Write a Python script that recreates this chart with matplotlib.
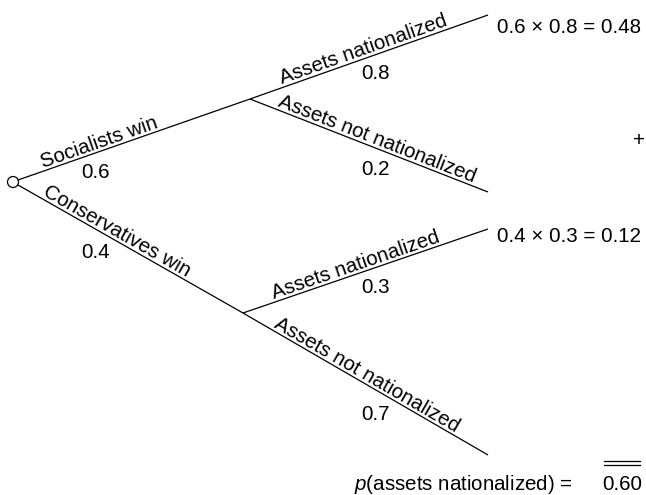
import math
import matplotlib
matplotlib.use("Agg")
import matplotlib.pyplot as plt
from matplotlib.patches import Circle

plt.rcParams["font.family"] = ["Liberation Sans", "DejaVu Sans"]
plt.rcParams["mathtext.fontset"] = "custom"
plt.rcParams["mathtext.rm"] = "Liberation Sans"
plt.rcParams["mathtext.it"] = "Liberation Sans:italic"

# ===== data =====
first_labels = ["Socialists win", "Conservatives win"]
first_probs = [0.6, 0.4]
second_labels = ["Assets nationalized", "Assets not nationalized"]
second_probs = [[0.8, 0.2], [0.3, 0.7]]
total_label = "$p$(assets nationalized) ="

# ===== layout (pixel coords, y down) =====
root = (13, 182)
first_starts = [(18, 180), (18, 185)]
first_ends = [(250, 99), (243, 313)]
second_ends = [[(488, 15), (488, 192)], [(488, 229), (488, 455)]]
first_label_t = [0.36, 0.42]
first_prob_xy = [(96, 178), (96, 258)]          # baseline positions
second_label_t = [[0.49, 0.52], [0.47, 0.49]]
second_prob_xy = [[(375, 79), (375, 175)], [(376, 293), (375, 420)]]
result_base = [33, 242]
LABEL_OFF = 3
FS = 14.8
LW = 0.9

fig = plt.figure(figsize=(6.46, 4.95), dpi=100)
ax = fig.add_axes([0, 0, 1, 1])
ax.set_xlim(0, 646)
ax.set_ylim(495, 0)
ax.axis("off")


def branch(p0, p1, label, t):
    ax.plot([p0[0], p1[0]], [p0[1], p1[1]], color="black", lw=LW,
            solid_capstyle="butt")
    dx, dy = p1[0] - p0[0], p1[1] - p0[1]
    length = math.hypot(dx, dy)
    # normal pointing "up" on screen
    nx, ny = dy / length, -dx / length
    if ny > 0:
        nx, ny = -nx, -ny
    cx = p0[0] + t * dx + nx * LABEL_OFF
    cy = p0[1] + t * dy + ny * LABEL_OFF
    ang = math.degrees(math.atan2(-dy, dx))
    ax.text(cx, cy, label, fontsize=FS, rotation=ang, rotation_mode="anchor",
            ha="center", va="baseline")


ax.add_patch(Circle(root, 5.5, facecolor="white", edgecolor="black", lw=LW,
                    zorder=3))

for i in range(2):
    branch(first_starts[i], first_ends[i], first_labels[i], first_label_t[i])
    ax.text(*first_prob_xy[i], f"{first_probs[i]}", fontsize=FS,
            ha="center", va="baseline")
    for j in range(2):
        branch(first_ends[i], second_ends[i][j], second_labels[j],
               second_label_t[i][j])
        ax.text(*second_prob_xy[i][j], f"{second_probs[i][j]}", fontsize=FS,
                ha="center", va="baseline")
    joint = first_probs[i] * second_probs[i][0]
    ax.text(497, result_base[i],
            f"{first_probs[i]} \u00d7 {second_probs[i][0]} = {joint:.2f}",
            fontsize=FS, ha="left", va="baseline")

total = sum(first_probs[i] * second_probs[i][0] for i in range(2))
ax.text(639, 140, "+", fontsize=FS, ha="center", va="center")
ax.text(573, 490, total_label, fontsize=FS, ha="right", va="baseline")
ax.text(622, 490, f"{total:.2f}", fontsize=FS, ha="center", va="baseline")
for yy in (461, 465):
    ax.plot([604, 640], [yy, yy], color="black", lw=LW)

fig.savefig("out.png", dpi=100)
